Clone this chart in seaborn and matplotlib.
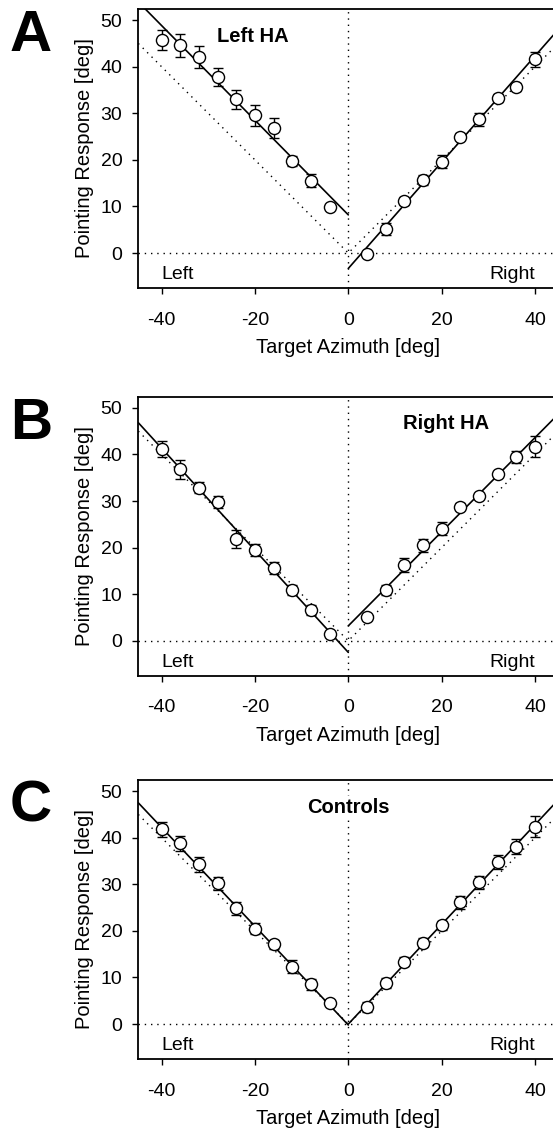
import numpy as np
import pandas as pd
import matplotlib
matplotlib.use("Agg")
import matplotlib.pyplot as plt
import seaborn as sns

# ---------------- data ----------------
targets = [-40, -36, -32, -28, -24, -20, -16, -12, -8, -4,
           4, 8, 12, 16, 20, 24, 28, 32, 36, 40]

A_mean = [45.7, 44.6, 42.1, 37.8, 33.0, 29.6, 26.9, 19.8, 15.5, 9.9,
          -0.3, 5.1, 11.2, 15.7, 19.6, 25.0, 28.7, 33.3, 35.7, 41.6]
A_err = [2.1, 2.4, 2.4, 2.0, 2.0, 2.25, 2.1, 1.1, 1.4, 0.5,
         0.5, 1.3, 0.8, 1.0, 1.4, 0.8, 1.4, 0.9, 0.8, 1.6]

B_mean = [41.2, 36.8, 32.9, 29.8, 21.9, 19.5, 15.7, 10.9, 6.6, 1.4,
          5.0, 10.9, 16.3, 20.5, 24.1, 28.8, 31.1, 35.7, 39.5, 41.7]
B_err = [1.7, 2.0, 1.1, 1.2, 1.9, 1.2, 1.3, 1.1, 1.0, 0.5,
         0.5, 1.1, 1.5, 1.35, 1.3, 0.8, 0.5, 0.5, 1.25, 2.3]

C_mean = [41.8, 38.8, 34.3, 30.2, 24.9, 20.5, 17.1, 12.3, 8.5, 4.6,
          3.7, 8.8, 13.4, 17.5, 21.2, 26.1, 30.4, 34.8, 38.1, 42.4]
C_err = [1.6, 1.6, 1.6, 1.4, 1.4, 1.2, 1.0, 1.4, 1.2, 0.6,
         1.1, 1.1, 1.0, 1.0, 1.0, 1.4, 1.3, 1.6, 1.6, 2.2]

# regression fits: (intercept, slope) for left and right hemifield
A_fit_left, A_fit_right = (8.2, -1.016), (-3.3, 1.14)
B_fit_left, B_fit_right = (-2.5, -1.096), (3.2, 1.01)
C_fit_left, C_fit_right = (-0.2, -1.06), (0.0, 1.07)

panel_letters = ["A", "B", "C"]
panel_titles = ["Left HA", "Right HA", "Controls"]
title_x = [-20.4, 20.9, 0.0]
xticks = [-40, -20, 0, 20, 40]
yticks = [0, 10, 20, 30, 40, 50]
xlabel = "Target Azimuth [deg]"
ylabel = "Pointing Response [deg]"

# ---------------- style ----------------
sns.set_style("ticks")
plt.rcParams["font.family"] = ["Liberation Sans", "DejaVu Sans"]
plt.rcParams["axes.unicode_minus"] = False
plt.rcParams["text.color"] = "black"
plt.rcParams["axes.labelcolor"] = "black"
plt.rcParams["xtick.color"] = "black"
plt.rcParams["ytick.color"] = "black"
plt.rcParams["axes.edgecolor"] = "black"

W, H = 553, 1131
fig = plt.figure(figsize=(W / 100, H / 100), dpi=100)

panel_px = [(9, 288), (396.7, 675.7), (780, 1059)]
means = [A_mean, B_mean, C_mean]
errs = [A_err, B_err, C_err]
fits = [(A_fit_left, A_fit_right), (B_fit_left, B_fit_right), (C_fit_left, C_fit_right)]

XLIM = (-45, 45)
YLIM = (-7.5, 52.4)
dot = (0, (1, 3.5))

for i in range(3):
    top, bot = panel_px[i]
    ax = fig.add_axes([138.3 / W, 1 - bot / H, 420 / W, (bot - top) / H])
    df = pd.DataFrame({"target": targets, "resp": means[i], "err": errs[i]})

    # reference lines
    ax.axhline(0, color="black", lw=1.0, ls=dot, zorder=1)
    ax.axvline(0, color="black", lw=1.0, ls=dot, zorder=1)
    ref = pd.DataFrame({"x": [XLIM[0], 0, XLIM[1]]})
    ref["y"] = ref["x"].abs()
    ax.plot(ref["x"], ref["y"], color="black", lw=1.0, ls=dot, zorder=1)

    # regression lines
    (il, sl), (ir, sr) = fits[i]
    fl = pd.DataFrame({"x": [XLIM[0], 0.0]})
    fl["y"] = il + sl * fl["x"]
    fr = pd.DataFrame({"x": [0.0, XLIM[1]]})
    fr["y"] = ir + sr * fr["x"]
    sns.lineplot(data=fl, x="x", y="y", ax=ax, color="black", lw=1.2, zorder=2)
    sns.lineplot(data=fr, x="x", y="y", ax=ax, color="black", lw=1.2, zorder=2)

    # error bars + points
    ax.errorbar(df["target"], df["resp"], yerr=df["err"], fmt="none",
                ecolor="black", elinewidth=1.0, capsize=3.8, capthick=1.0, zorder=3)
    sns.scatterplot(data=df, x="target", y="resp", ax=ax, marker="o", s=76,
                    facecolor="white", edgecolor="black", linewidth=1.0, zorder=4)

    ax.set_xlim(*XLIM)
    ax.set_ylim(*YLIM)
    ax.set_xticks(xticks)
    ax.set_yticks(yticks)
    ax.tick_params(axis="x", length=4, width=1.0, pad=13, labelsize=14, colors="black")
    ax.tick_params(axis="y", length=4.5, width=1.0, pad=7, labelsize=14, colors="black")
    ax.set_xlabel(xlabel, fontsize=14.5, labelpad=7, color="black")
    ax.set_ylabel(ylabel, fontsize=14.5, labelpad=5, color="black")
    for s in ax.spines.values():
        s.set_linewidth(1.3)
        s.set_color("black")

    ax.text(title_x[i], 45.4, panel_titles[i], ha="center", va="baseline",
            fontsize=14.5, fontweight="bold", zorder=5, color="black",
            bbox=dict(facecolor="white", edgecolor="none", pad=1.5))
    ax.text(-40, -5.6, "Left", ha="left", va="baseline", fontsize=14, color="black")
    ax.text(40, -5.6, "Right", ha="right", va="baseline", fontsize=14, color="black")

    fig.text(10 / W, 1 - (top + 42) / H, panel_letters[i], fontsize=42,
             fontweight="bold", ha="left", va="baseline", color="black")

fig.savefig("out.png", dpi=100)
